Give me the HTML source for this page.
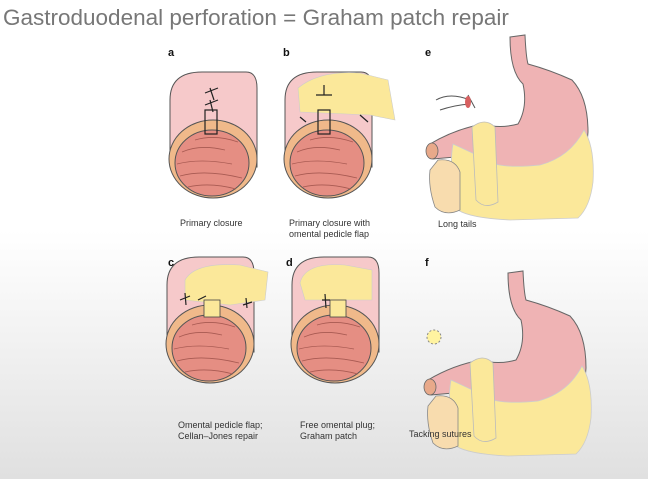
<!DOCTYPE html>
<html><head><style>
html,body{margin:0;padding:0;}
body{width:648px;height:479px;overflow:hidden;background:linear-gradient(#fff 0,#fff 230px,#f3f3f3 330px,#e0e0e0 479px);font-family:"Liberation Sans",sans-serif;position:relative;}
.t{position:absolute;left:3px;top:5px;font-size:22.5px;color:#777;white-space:nowrap;}
svg{position:absolute;left:0;top:0;}
</style></head><body>
<div class="t">Gastroduodenal perforation = Graham patch repair</div>
<svg width="648" height="479" viewBox="0 0 648 479" font-family="Liberation Sans, sans-serif">
<defs>
<g id="cyl">
 <path d="M0 95 L0 28 Q0 0 32 0 L76 0 Q87 0 87 16 L87 95 Z" fill="#f6c9ca" stroke="#555" stroke-width="1"/>
 <ellipse cx="43" cy="87" rx="44" ry="39" fill="#f0b98a" stroke="#555" stroke-width="1"/>
 <ellipse cx="42" cy="91" rx="37" ry="33" fill="#e58e83" stroke="#555" stroke-width="1"/>
 <path d="M12 80 Q30 72 55 78 M7 92 Q30 86 62 92 M10 104 Q35 97 72 106 M18 115 Q40 110 66 117 M25 68 Q45 62 68 70" stroke="#a85a52" fill="none" stroke-width="0.8"/>
</g>
<g id="stom">
 <path d="M110 5 L125 3 Q126 25 128 32 Q150 38 172 48 Q188 65 188 100 L185 135 L60 135 L55 125 L33 127 L30 112 Q55 97 83 92 Q100 97 118 92 Q128 75 123 52 Q110 40 110 5 Z" fill="#efb3b4" stroke="#666" stroke-width="1"/>
 <ellipse cx="32" cy="119" rx="6" ry="8" fill="#e8a98a" stroke="#666" stroke-width="0.8"/>
 <path d="M53 112 Q75 122 95 132 Q110 136 140 133 Q170 125 184 98 Q195 115 193 150 Q190 175 178 186 L110 188 Q70 186 58 178 Q48 140 53 112 Z" fill="#fbe89a" stroke="#ccc" stroke-width="0.8"/>
 <path d="M38 128 Q55 126 60 140 L60 178 Q45 185 35 175 Q28 155 30 138 Z" fill="#f8dcae" stroke="#888" stroke-width="0.8"/>
 <path d="M72 95 Q85 85 95 95 L98 170 Q85 178 76 168 Z" fill="#fbe89a" stroke="#bbb" stroke-width="0.8"/>
</g>
</defs>
<use href="#cyl" x="170" y="72"/>
<use href="#cyl" x="285" y="72"/>
<use href="#cyl" x="167" y="257"/>
<use href="#cyl" x="292" y="257"/>
<path d="M298 88 Q320 70 360 73 L388 80 L395 120 L370 115 L300 112 Z" fill="#fbe89a" stroke="#ccc" stroke-width="0.6"/>
<path d="M185 280 Q195 262 240 265 L268 272 L265 300 L230 305 L185 300 Z" fill="#fbe89a" stroke="#ccc" stroke-width="0.6"/>
<path d="M300 283 Q305 262 345 265 L372 270 L372 300 L305 300 Z" fill="#fbe89a" stroke="#ccc" stroke-width="0.6"/>
<rect x="204" y="300" width="16" height="17" fill="#fbe89a" stroke="#444" stroke-width="0.8"/>
<rect x="330" y="300" width="16" height="17" fill="#fbe89a" stroke="#444" stroke-width="0.8"/>
<g stroke="#222" stroke-width="1.2" fill="none">
<path d="M205 93 L218 88 M210 88 L214 100 M205 105 L218 100 M210 100 L213 112"/>
<rect x="205" y="110" width="12" height="24"/>
<rect x="318" y="110" width="12" height="24"/><path d="M316 95 L332 95 M324 85 L324 95 M300 117 L306 122 M360 115 L368 122"/>
<path d="M180 300 L190 296 M185 293 L186 305 M198 300 L206 296 M243 305 L252 302 M246 298 L247 308 M322 300 L330 300 M325 294 L326 308"/>
</g>
<use href="#stom" x="400" y="32"/>
<use href="#stom" x="398" y="268"/>
<path d="M468 95 L475 108 M436 100 Q450 92 470 100 M440 110 Q455 105 470 104" stroke="#555" stroke-width="1" fill="none"/>
<ellipse cx="468" cy="102" rx="3" ry="6" fill="#d86060"/>
<circle cx="434" cy="337" r="7" fill="#fff3a0" stroke="#888" stroke-dasharray="2,2"/>
<g font-size="11" font-weight="bold" fill="#111">
<text x="168" y="56">a</text><text x="283" y="56">b</text><text x="425" y="56">e</text>
<text x="168" y="266">c</text><text x="286" y="266">d</text><text x="425" y="266">f</text>
</g>
<g font-size="9" fill="#333">
<text x="180" y="226">Primary closure</text>
<text x="289" y="226">Primary closure with</text><text x="289" y="237">omental pedicle flap</text>
<text x="438" y="227">Long tails</text>
<text x="178" y="428">Omental pedicle flap;</text><text x="178" y="439">Cellan–Jones repair</text>
<text x="300" y="428">Free omental plug;</text><text x="300" y="439">Graham patch</text>
<text x="409" y="437">Tacking sutures</text>
</g>
</svg>
</body></html>
